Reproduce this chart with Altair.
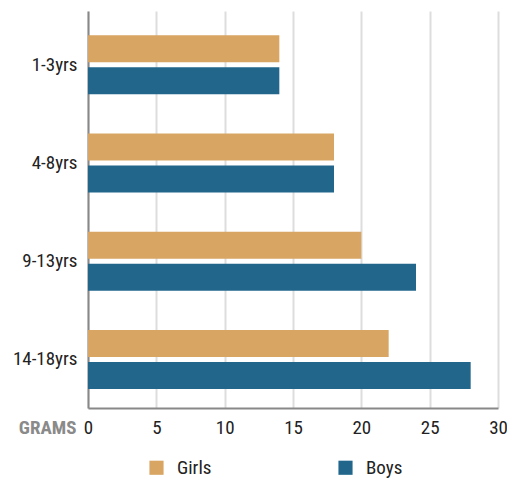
import altair as alt
import pandas as pd

ages = ["1-3yrs", "4-8yrs", "9-13yrs", "14-18yrs"]
girls = [14, 18, 20, 22]
boys = [14, 18, 24, 28]
groups = ["Girls", "Boys"]
colors = ["#D8A563", "#22668B"]
x_ticks = [0, 5, 10, 15, 20, 25, 30]

rows = []
for a, g, b in zip(ages, girls, boys):
    rows.append({"age": a, "sex": "Girls", "grams": g})
    rows.append({"age": a, "sex": "Boys", "grams": b})
df = pd.DataFrame(rows)

FONT = "Roboto Condensed"

chart = alt.Chart(df).mark_bar().encode(
    y=alt.Y("age:N", sort=ages,
            scale=alt.Scale(paddingInner=0.4, paddingOuter=0.22, align=0.56),
            axis=alt.Axis(title=None, ticks=False, labelPadding=11, labelFontSize=19,
                          labelColor="#222222", domainColor="#888888", domainWidth=2,
                          labelFont=FONT)),
    yOffset=alt.YOffset("sex:N", sort=groups, scale=alt.Scale(paddingInner=0.156)),
    x=alt.X("grams:Q", scale=alt.Scale(domain=[0, 30], nice=False),
            axis=alt.Axis(values=x_ticks, title="GRAMS", ticks=False, labelPadding=10,
                          labelFlush=False,
                          labelFontSize=19, labelColor="#222222", labelFont=FONT,
                          domainColor="#888888", domainWidth=2,
                          grid=True, gridColor="#dddddd", gridWidth=2,
                          titleAngle=0, titleAlign="right", titleBaseline="top",
                          titleX=-12, titleY=10, titleFontSize=19, titleFont=FONT,
                          titleColor="#8a8a8a", titleFontWeight="bold")),
    color=alt.Color("sex:N", sort=groups,
                    scale=alt.Scale(domain=groups, range=colors),
                    legend=alt.Legend(title=None, orient="none", direction="horizontal",
                                      legendX=59, legendY=447, symbolType="square",
                                      symbolSize=200, symbolStrokeWidth=0,
                                      labelFontSize=19, labelFont=FONT, labelColor="#222222",
                                      columnPadding=124, labelOffset=11)),
).properties(
    width=410, height=397,
    padding={"left": 80, "top": 3, "right": 9, "bottom": 70},
    autosize=alt.AutoSizeParams(type="none"),
).configure_view(stroke=None)

chart.save("out.html", embed_options={"renderer": "svg", "actions": False})
